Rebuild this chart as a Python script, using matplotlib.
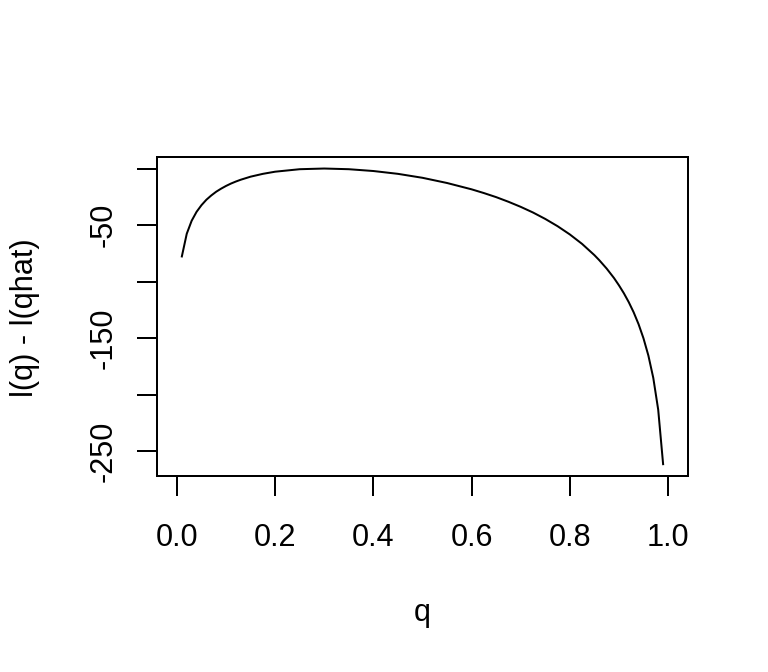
import matplotlib
matplotlib.use('Agg')
import matplotlib.pyplot as plt

plt.rcParams['font.family'] = ['Liberation Sans', 'DejaVu Sans']

# values
q = [0.01, 0.02, 0.03, 0.04, 0.05, 0.06, 0.07, 0.08, 0.09, 0.10, 0.11, 0.12,
     0.13, 0.15, 0.175, 0.20, 0.25, 0.30, 0.35, 0.40, 0.45, 0.50, 0.55, 0.60,
     0.625, 0.65, 0.675, 0.70, 0.725, 0.75, 0.775, 0.80, 0.825, 0.85, 0.86,
     0.875, 0.89, 0.90, 0.91, 0.92, 0.93, 0.94, 0.95, 0.96, 0.97, 0.98, 0.99]
ll = [-77.8, -57.7, -46.2, -38.3, -32.4, -27.6, -23.8, -20.5, -17.8, -15.4,
      -13.3, -11.5, -9.9, -7.2, -4.7, -2.8, -0.6, 0.0, -0.6, -2.2, -4.7, -8.2,
      -12.8, -18.4, -21.7, -25.3, -29.4, -33.9, -38.9, -44.6, -51.0, -58.3,
      -66.7, -76.6, -81.1, -88.5, -96.9, -103.3, -110.3, -118.2, -127.2,
      -137.7, -150.2, -165.5, -185.3, -213.4, -261.6]

xticks = [0.0, 0.2, 0.4, 0.6, 0.8, 1.0]
xticklabels = ['0.0', '0.2', '0.4', '0.6', '0.8', '1.0']
yticks = [0, -50, -100, -150, -200, -250]
yticklabels = ['', '-50', '', '-150', '', '-250']

fig = plt.figure(figsize=(8, 7), dpi=96)
ax = fig.add_axes([0.2048, 0.2917, 0.6906, 0.4751])
ax.plot(q, ll, color='black', lw=1.5)

ax.set_xlim(-0.04, 1.04)
ax.set_ylim(-272.05, 10.46)
ax.set_xticks(xticks)
ax.set_xticklabels(xticklabels)
ax.set_yticks(yticks)
ax.set_yticklabels(yticklabels, rotation=90, va='center')
for s in ax.spines.values():
    s.set_linewidth(1.5)
ax.tick_params(axis='both', length=15, width=1.5, labelsize=23)
ax.tick_params(axis='x', pad=20.5)
ax.tick_params(axis='y', pad=14)

fig.text(422/768, 1 - 620.5/672, 'q', ha='center', va='baseline', fontsize=23)
fig.text(33.3/768, 1 - 318/672, 'l(q) - l(qhat)', ha='center', va='baseline',
         rotation=90, rotation_mode='anchor', fontsize=23)

fig.savefig('out.png', dpi=96)
